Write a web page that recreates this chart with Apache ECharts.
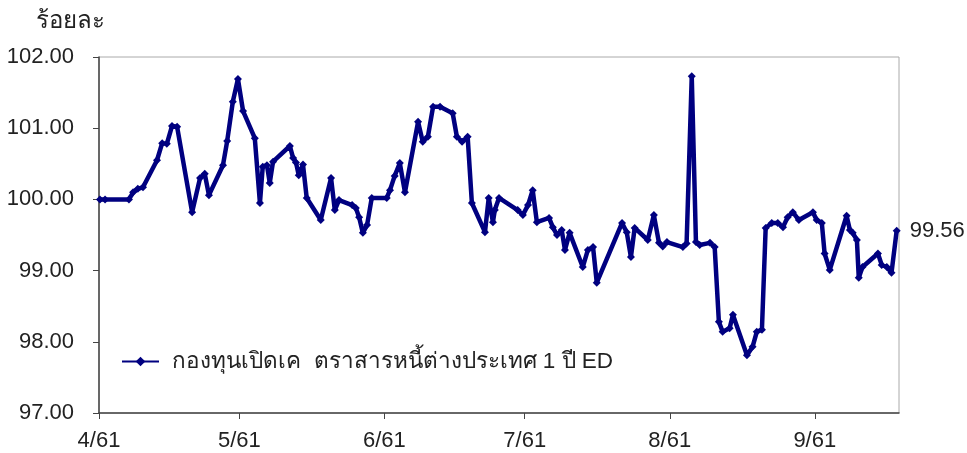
<!DOCTYPE html>
<html>
<head>
<meta charset="utf-8">
<script src="https://cdn.jsdelivr.net/npm/echarts@6/dist/echarts.min.js"></script>
<style>
  html, body { margin: 0; padding: 0; background: #fff; }
  #chart { width: 967px; height: 453px; }
</style>
</head>
<body>
<div id="chart"></div>
<script>
// ข้อมูล: วันนับจาก 1 เม.ย. 2561 และราคา (ร้อยละ)
const seriesName = 'กองทุนเปิดเค  ตราสารหนี้ต่างประเทศ 1 ปี ED';
const dayOffsets = [
  0.2, 1.3, 6.4, 7.3, 8.3, 9.4, 12.4, 13.5, 14.5, 15.6, 16.7, 19.9, 21.6, 22.6, 23.5,
  26.5, 27.4, 28.6, 29.7, 30.8, 33.3, 34.4, 35.0, 35.9, 36.5, 37.2, 40.8, 41.5, 42.1, 42.7,
  43.6, 44.4, 47.4, 49.6, 50.4, 51.3, 54.1, 54.9, 55.6, 56.4, 57.3, 58.3, 61.5, 62.2, 63.2,
  64.3, 65.4, 68.2, 69.2, 70.3, 71.4, 72.9, 75.6, 76.5, 77.6, 78.8, 79.7, 82.5, 83.3, 84.2,
  84.6, 85.5, 89.5, 90.6, 91.7, 92.7, 93.6, 96.2, 97.0, 97.9, 98.9, 99.6, 100.6, 103.4, 104.5,
  105.6, 106.4, 111.8, 112.8, 113.7, 114.5, 117.3, 118.6, 119.7, 120.5, 121.4, 124.8, 125.6, 126.7,
  127.6, 128.4, 130.6, 131.6, 132.5, 133.3, 134.8, 135.5, 138.5, 139.7, 140.6, 141.7, 142.5, 143.8,
  145.1, 146.2, 147.2, 148.3, 149.6, 152.6, 153.4, 154.5, 155.1, 156.2, 159.8, 160.5, 161.1, 162.0,
  162.4, 163.2, 166.5, 167.3, 168.4, 169.4, 170.5
];
const values = [
  100.00, 100.00, 100.00, 100.10, 100.15, 100.17, 100.55, 100.79, 100.78, 101.03, 101.02, 99.82, 100.30, 100.36, 100.06,
  100.48, 100.82, 101.37, 101.69, 101.24, 100.86, 99.95, 100.46, 100.48, 100.23, 100.53, 100.75, 100.58, 100.52, 100.34,
  100.49, 100.02, 99.71, 100.30, 99.85, 99.99, 99.92, 99.88, 99.75, 99.53, 99.64, 100.02, 100.02, 100.13, 100.33,
  100.51, 100.10, 101.09, 100.81, 100.88, 101.30, 101.30, 101.21, 100.88, 100.81, 100.88, 99.95, 99.54, 100.02, 99.68,
  99.85, 100.02, 99.85, 99.78, 99.92, 100.13, 99.68, 99.74, 99.61, 99.50, 99.57, 99.29, 99.53, 99.05, 99.29,
  99.33, 98.83, 99.67, 99.54, 99.19, 99.60, 99.43, 99.78, 99.39, 99.34, 99.40, 99.33, 99.38, 101.73,
  99.40, 99.36, 99.39, 99.33, 98.28, 98.14, 98.19, 98.38, 97.81, 97.93, 98.14, 98.17, 99.60, 99.67,
  99.67, 99.61, 99.75, 99.82, 99.71, 99.82, 99.71, 99.67, 99.24, 99.01, 99.77, 99.57, 99.53, 99.43,
  98.90, 99.05, 99.24, 99.08, 99.05, 98.97, 99.56
];
const yTicks = [97, 98, 99, 100, 101, 102];
const axisDays = [0, 171];

const DAY = 24 * 3600 * 1000;
const start = new Date(2018, 3, 1).getTime();
let lineData = dayOffsets.map(function (d, i) {
    return [start + d * DAY, values[i]];
});

var myChart = echarts.init(document.getElementById('chart'));

let option = {
    animation: false,
    textStyle: { fontFamily: 'Liberation Sans, Arial, sans-serif' },
    title: {
        text: 'ร้อยละ',
        left: 31,
        top: 4,
        textStyle: { fontSize: 24, fontWeight: 'normal', color: '#222' }
    },
    grid: {
        left: 99, right: 68, top: 57, bottom: 40,
        show: true, borderColor: '#aaa', borderWidth: 1
    },
    legend: {
        left: 116, top: 345,
        itemWidth: 37, itemHeight: 12, itemGap: 10,
        textStyle: { fontSize: 22.5, color: '#222', padding: [0, 0, 0, 8] },
        data: [seriesName]
    },
    xAxis: {
        type: 'time',
        min: start + axisDays[0] * DAY,
        max: start + axisDays[1] * DAY,
        splitNumber: 6,
        axisLine: { lineStyle: { color: '#444', width: 1.5 } },
        axisTick: { show: true, length: 6, lineStyle: { color: '#444' } },
        splitLine: { show: false },
        axisLabel: {
            fontSize: 22, color: '#222', margin: 17,
            showMaxLabel: false,
            formatter: function (val) {
                return (new Date(val).getMonth() + 1) + '/61';
            }
        }
    },
    yAxis: {
        type: 'value',
        min: yTicks[0], max: yTicks[yTicks.length - 1], interval: 1,
        axisLine: { show: true, lineStyle: { color: '#444', width: 1.5 } },
        axisTick: { show: true, length: 6, lineStyle: { color: '#444' } },
        splitLine: { show: false },
        axisLabel: {
            fontSize: 22, color: '#222', margin: 25,
            formatter: function (v) { return v.toFixed(2); }
        }
    },
    series: [{
        name: seriesName,
        type: 'line',
        data: lineData,
        symbol: 'diamond',
        symbolSize: 8,
        showAllSymbol: true,
        color: '#000080',
        lineStyle: { color: '#000080', width: 4.5 },
        itemStyle: { color: '#000080' },
        endLabel: {
            show: true,
            distance: 13,
            fontSize: 22,
            color: '#222',
            formatter: function (p) { return p.value[1].toFixed(2); }
        }
    }]
};

myChart.setOption(option);
</script>
</body>
</html>
